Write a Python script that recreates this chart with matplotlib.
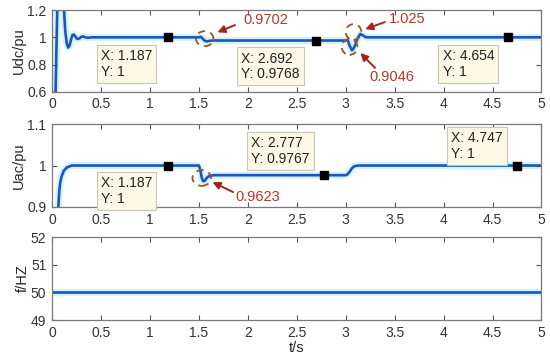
import matplotlib
matplotlib.use("Agg")
import matplotlib.pyplot as plt
from matplotlib.patches import Ellipse

plt.rcParams['font.family'] = ['Liberation Sans', 'DejaVu Sans']

# --- data ---
t_dc = [0, 0.03, 0.045, 0.06, 0.09, 0.115, 0.135, 0.15, 0.165, 0.18, 0.195, 0.21,
        0.225, 0.24, 0.255, 0.27, 0.285, 0.30, 0.32, 0.34, 0.37, 0.40,
        1.50, 1.52, 1.54, 1.56, 1.58, 1.60, 1.63, 1.66,
        3.00, 3.02, 3.04, 3.065, 3.09, 3.12, 3.15, 3.18, 3.21, 5.0]
u_dc = [0, 0.35, 0.9, 1.4, 1.55, 1.3, 1.05, 0.96, 0.925, 0.94, 0.985, 1.018,
        1.02, 1.005, 0.99, 0.988, 0.995, 1.005, 1.006, 1.0, 0.997, 1.0,
        1.0, 1.004, 0.99, 0.975, 0.9702, 0.973, 0.9768, 0.9768,
        0.9768, 0.982, 0.94, 0.9046, 0.93, 0.99, 1.025, 1.012, 1.0, 1.0]

t_ac = [0, 0.05, 0.065, 0.075, 0.085, 0.10, 0.12, 0.15, 0.20,
        1.50, 1.515, 1.53, 1.545, 1.56, 1.58, 1.61, 1.65,
        3.00, 3.02, 3.04, 3.06, 3.08, 3.10, 3.13, 5.0]
u_ac = [0, 0.6, 0.9, 0.94, 0.96, 0.975, 0.987, 0.995, 1.0,
        1.0, 0.99, 0.97, 0.9623, 0.963, 0.97, 0.9755, 0.9767,
        0.9767, 0.979, 0.985, 0.992, 0.997, 0.999, 1.0, 1.0]

t_f = [0, 5]
f_hz = [50, 50]

tips_dc_x = [1.187, 2.692, 4.654]
tips_dc_y = [1, 0.9768, 1]
tips_ac_x = [1.187, 2.777, 4.747]
tips_ac_y = [1, 0.9767, 1]

xticks = [0, 0.5, 1, 1.5, 2, 2.5, 3, 3.5, 4, 4.5, 5]

line_c = '#2152bd'
halo_c = '#cdf6fa'
red_txt = '#b23a26'
arrow_c = '#a3241a'
circ_c = '#9a5522'
tip_fc = '#fbf9e6'
tip_ec = '#c8c6b4'

fig = plt.figure(figsize=(5.5, 3.59), dpi=100)
axs = [fig.add_axes([0.0945, 0.744, 0.89, 0.228]),
       fig.add_axes([0.0945, 0.4234, 0.89, 0.231]),
       fig.add_axes([0.0945, 0.1086, 0.89, 0.231])]


def style(ax, ylim, yticks, ylabel):
    ax.set_xlim(0, 5)
    ax.set_ylim(*ylim)
    ax.set_xticks(xticks)
    ax.set_xticklabels(['%g' % v for v in xticks])
    ax.set_yticks(yticks)
    ax.set_yticklabels(['%g' % v for v in yticks])
    ax.tick_params(direction='in', top=True, right=True, length=3.5, width=0.8,
                   color='#555555', labelsize=10, labelcolor='#333333', pad=4)
    for s in ax.spines.values():
        s.set_color('#7a7a7a')
        s.set_linewidth(0.9)
    ax.set_ylabel(ylabel, fontsize=10.5, color='#262626', labelpad=1)


def tip(ax, x, y, tx, ty):
    ax.plot(x, y, 's', color='black', ms=6, zorder=5)
    ax.text(tx, ty, 'X: %g\nY: %g' % (x, y), ha='left', va='top', fontsize=10,
            color='#222222', linespacing=1.15, zorder=6,
            bbox=dict(boxstyle='square,pad=0.3', fc=tip_fc, ec=tip_ec, lw=0.8))


def mark(ax, label, txt_xy, tail, head, centre, w, h):
    ax.add_patch(Ellipse(centre, w, h, fill=False, ec=circ_c, lw=1.3,
                         ls=(0, (4, 3)), zorder=4))
    ax.annotate('', xy=head, xytext=tail, zorder=6,
                arrowprops=dict(arrowstyle='-|>', color=arrow_c, lw=1.4,
                                mutation_scale=11, shrinkA=0, shrinkB=0))
    ax.text(txt_xy[0], txt_xy[1], label, color=red_txt, fontsize=10.5,
            ha='left', va='center', zorder=6)


# Udc
ax = axs[0]
ax.plot(t_dc, u_dc, color=halo_c, lw=5, zorder=1)
ax.plot(t_dc, u_dc, color=line_c, lw=1.9, zorder=2)
style(ax, (0.6, 1.2), [0.6, 0.8, 1, 1.2], 'Udc/pu')
for x, y, tx, ty in zip(tips_dc_x, tips_dc_y, [0.50, 1.93, 3.99], [0.915, 0.895, 0.915]):
    tip(ax, x, y, tx, ty)
mark(ax, '0.9702', (1.95, 1.127), (1.87, 1.09), (1.69, 1.037), (1.56, 0.99), 0.18, 0.11)
mark(ax, '1.025', (3.44, 1.134), (3.40, 1.112), (3.20, 1.06), (3.08, 1.039), 0.16, 0.115)
mark(ax, '0.9046', (3.24, 0.71), (3.30, 0.776), (3.15, 0.885), (3.04, 0.929), 0.16, 0.115)

# Uac
ax = axs[1]
ax.plot(t_ac, u_ac, color=halo_c, lw=5, zorder=1)
ax.plot(t_ac, u_ac, color=line_c, lw=1.9, zorder=2)
style(ax, (0.9, 1.1), [0.9, 1, 1.1], 'Uac/pu')
for x, y, tx, ty in zip(tips_ac_x, tips_ac_y, [0.50, 2.035, 4.08], [0.975, 1.071, 1.083]):
    tip(ax, x, y, tx, ty)
mark(ax, '0.9623', (1.87, 0.924), (1.85, 0.936), (1.64, 0.960), (1.53, 0.970), 0.19, 0.038)

# f
ax = axs[2]
ax.plot(t_f, f_hz, color=halo_c, lw=5, zorder=1)
ax.plot(t_f, f_hz, color=line_c, lw=1.9, zorder=2)
style(ax, (49, 52), [49, 50, 51, 52], 'f/HZ')
ax.set_xlabel('t/s', fontsize=10.5, color='#262626', labelpad=1)

fig.savefig('out.png', dpi=100)
